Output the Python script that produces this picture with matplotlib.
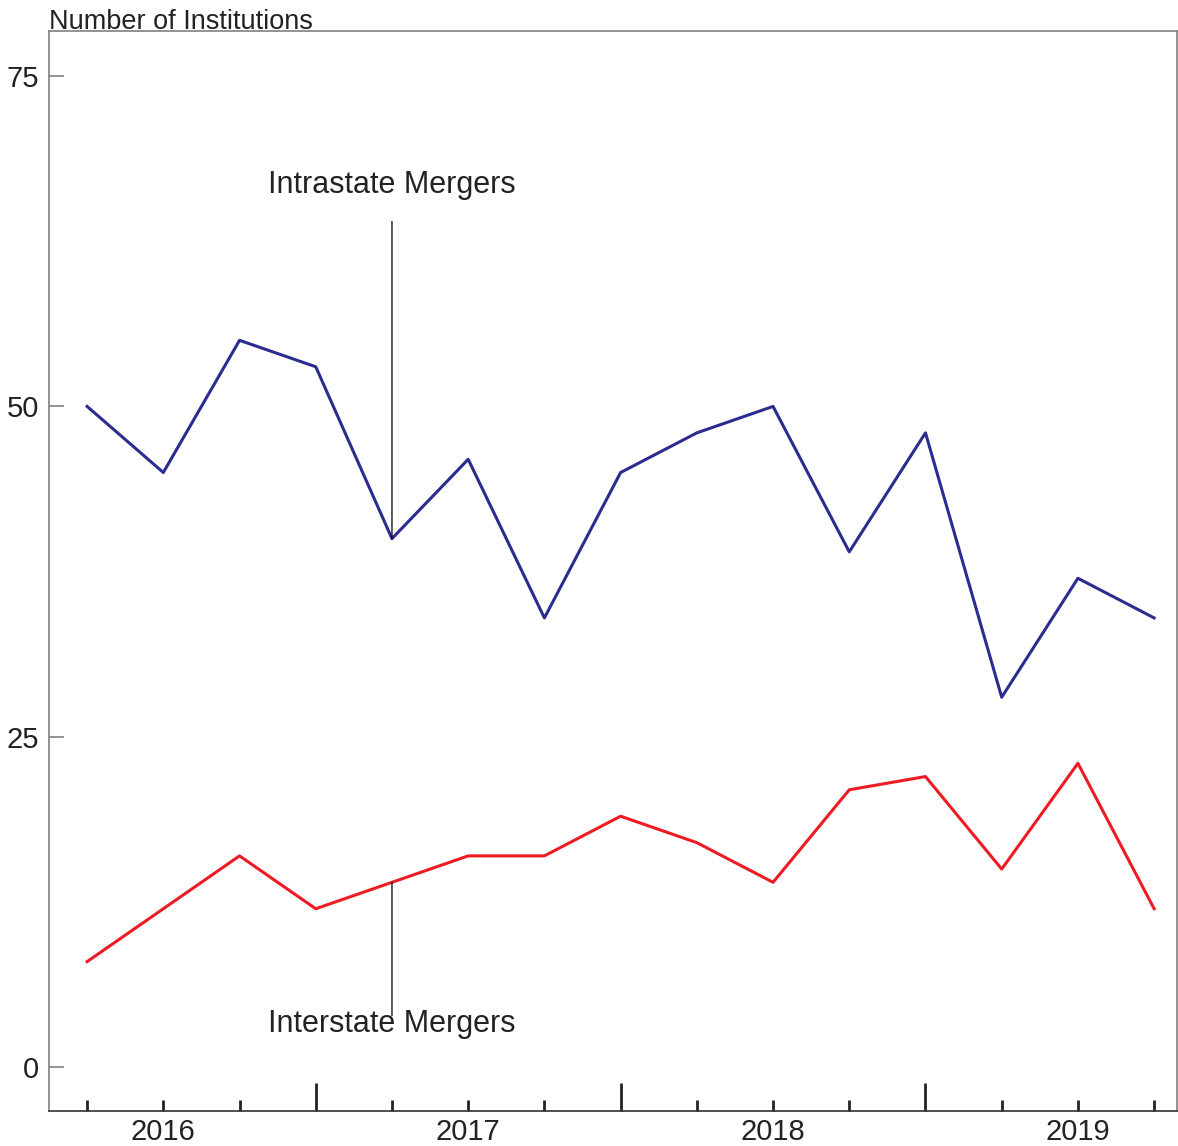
import matplotlib.pyplot as plt
import numpy as np

plt.rcParams['font.family'] = ['Liberation Sans', 'DejaVu Sans']

# quarterly observations, 2015:Q4 .. 2019:Q2
quarters = ['2015Q4', '2016Q1', '2016Q2', '2016Q3', '2016Q4', '2017Q1', '2017Q2', '2017Q3',
            '2017Q4', '2018Q1', '2018Q2', '2018Q3', '2018Q4', '2019Q1', '2019Q2']
intrastate = [50, 45, 55, 53, 40, 46, 34, 45, 48, 50, 39, 48, 28, 37, 34]
interstate = [8, 12, 16, 12, 14, 16, 16, 19, 17, 14, 21, 22, 15, 23, 12]
year_labels = ['2016', '2017', '2018', '2019']
year_label_pos = [1, 5, 9, 13]
year_break_pos = [3, 7, 11]
yticks = [0, 25, 50, 75]

blue = '#2b2c8f'
red = '#ed1c24'
grey = '#808080'
txt = '#222222'

fig = plt.figure(figsize=(11.78, 11.46), dpi=100)
ax = fig.add_axes([49 / 1178, 1 - 1111 / 1146, 1128 / 1178, 1080 / 1146])

x = np.arange(len(quarters))
ax.plot(x, intrastate, color=blue, lw=2.2)
ax.plot(x, interstate, color=red, lw=2.2)

ax.set_xlim(-0.5, 14.3)
ax.set_ylim(-3.3, 78.4)

for s in ax.spines.values():
    s.set_color(grey)
    s.set_linewidth(1.2)
ax.spines['bottom'].set_color('#333333')

ax.set_yticks(yticks)
ax.set_yticklabels([str(v) for v in yticks], fontsize=21, color=txt)
ax.tick_params(axis='y', direction='in', length=11, width=1.2, color=grey, pad=7,
               right=False)

# short quarterly ticks, long ticks at year breaks
short_pos = [i for i in x if i not in year_break_pos]
ax.set_xticks(short_pos)
ax.set_xticklabels([])
ax.tick_params(axis='x', direction='in', length=8, width=2, color=txt, top=False)
ax.set_xticks(year_break_pos, minor=True)
ax.tick_params(axis='x', which='minor', direction='in', length=20, width=2, color=txt,
               top=False)
for lab, p in zip(year_labels, year_label_pos):
    ax.text(p, -0.0065, lab, transform=ax.get_xaxis_transform(), ha='center', va='top',
            fontsize=21, color=txt)

# annotations
ax.annotate('', xy=(4, intrastate[4]), xytext=(4, 64),
            arrowprops=dict(arrowstyle='-', color='black', lw=0.9, shrinkA=0, shrinkB=0))
ax.text(4, 65.6, 'Intrastate Mergers', ha='center', va='bottom', fontsize=22, color=txt)
ax.annotate('', xy=(4, interstate[4]), xytext=(4, 3.9),
            arrowprops=dict(arrowstyle='-', color='black', lw=0.9, shrinkA=0, shrinkB=0))
ax.text(4, 3.3, 'Interstate Mergers', ha='center', va='center', fontsize=22, color=txt)

fig.text(49 / 1178, 1 - 35 / 1146, 'Number of Institutions', ha='left', va='bottom',
         fontsize=19.5, color=txt)

fig.savefig('out.png', dpi=100)
